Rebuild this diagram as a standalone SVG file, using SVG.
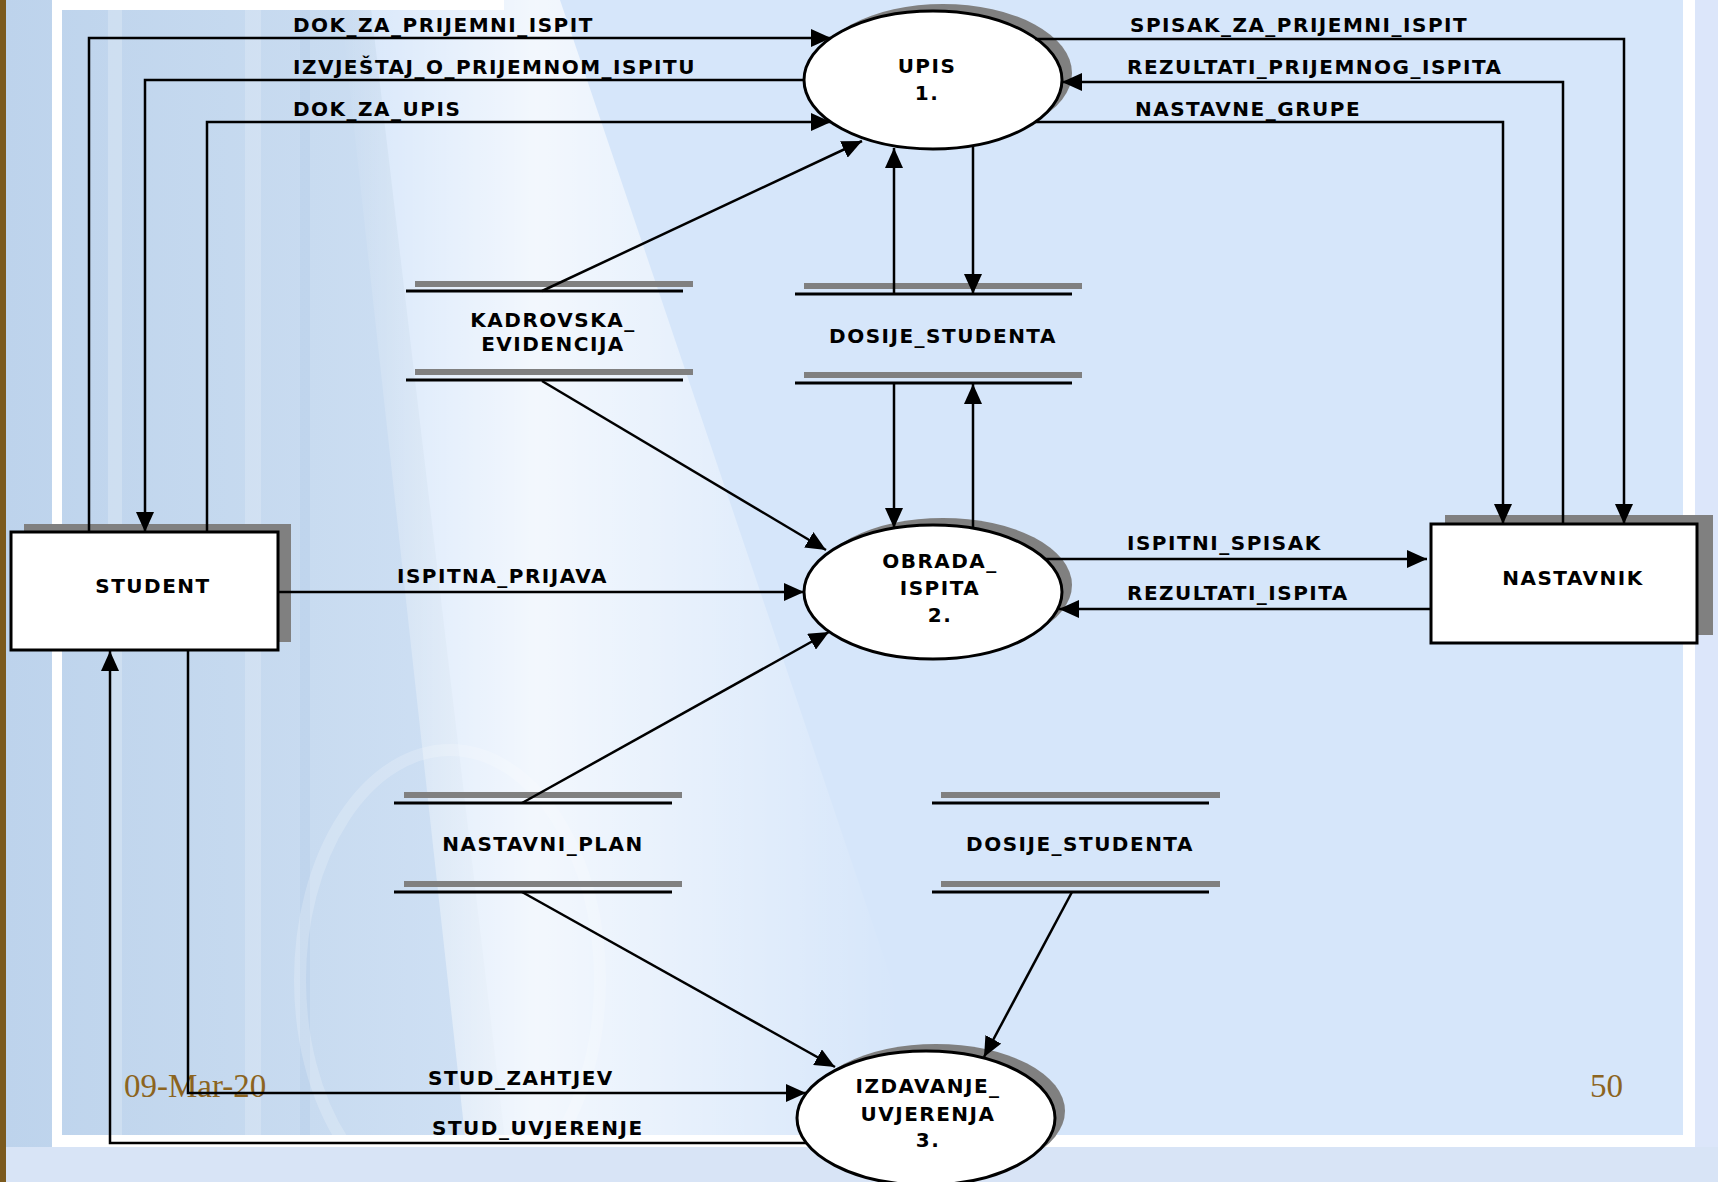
<svg xmlns="http://www.w3.org/2000/svg" width="1718" height="1182" viewBox="0 0 1718 1182">
<defs>
<style>
.lbl{font-family:"DejaVu Sans","Liberation Sans",Arial,sans-serif;font-weight:bold;font-size:20px;letter-spacing:1.5px;fill:#000}
.mid{text-anchor:middle}
.foot{font-family:"Liberation Serif","Times New Roman",serif;font-size:33px;fill:#8C6420}
.box{fill:#fff;stroke:#000;stroke-width:3}
.shadow{fill:#808080}
.proc{fill:#fff;stroke:#000;stroke-width:3}
.sg{stroke:#808080;stroke-width:6}
.sb{stroke:#000;stroke-width:3}
.cn{fill:none;stroke:#000;stroke-width:2.5;marker-end:url(#ah)}
</style>
<marker id="ah" viewBox="0 0 20 18" refX="20" refY="9" markerWidth="20" markerHeight="18" markerUnits="userSpaceOnUse" orient="auto">
<path d="M0,0 L20,9 L0,18 z" fill="#000"/>
</marker>
<linearGradient id="glow" gradientUnits="userSpaceOnUse" x1="340" y1="0" x2="900" y2="0">
<stop offset="0" stop-color="#fff" stop-opacity="0"/>
<stop offset="0.35" stop-color="#fff" stop-opacity="0.7"/>
<stop offset="1" stop-color="#fff" stop-opacity="0"/>
</linearGradient>
<linearGradient id="pillar" x1="0" x2="1" y1="0" y2="0">
<stop offset="0" stop-color="#BDD3EC"/>
<stop offset="0.6" stop-color="#C8DBF0"/>
<stop offset="1" stop-color="#D0E1F5"/>
</linearGradient>
</defs>

<g id="background">
<rect x="0" y="0" width="1718" height="1182" fill="#D6E6FA"/>
<polygon points="6,0 370,0 510,1182 6,1182" fill="url(#pillar)"/>
<polygon points="340,0 560,0 960,1182 470,1182" fill="url(#glow)"/>
<rect x="108" y="10" width="14" height="1125" fill="#fff" opacity="0.22"/>
<rect x="245" y="10" width="16" height="1125" fill="#fff" opacity="0.2"/>
<rect x="300" y="10" width="10" height="1125" fill="#A9C3E2" opacity="0.25"/>
<ellipse cx="450" cy="980" rx="150" ry="230" fill="none" stroke="#fff" stroke-width="12" opacity="0.2"/>
<rect x="1695" y="0" width="23" height="1182" fill="#DCE6FA"/>
<rect x="0" y="1147" width="1718" height="35" fill="#D8E4F6"/>
<rect x="52" y="0" width="10" height="1147" fill="#fff"/>
<rect x="52" y="0" width="452" height="10" fill="#fff"/>
<rect x="52" y="1135" width="1643" height="12" fill="#fff"/>
<rect x="1683" y="0" width="12" height="1147" fill="#fff"/>
<rect x="0" y="0" width="6" height="1182" fill="#7B5A1E"/>
<text class="foot" x="124" y="1097">09-Mar-20</text>
<text class="foot" x="1590" y="1097">50</text>
</g>

<g id="store-kadrovska">
<line class="sg" x1="415" y1="284" x2="693" y2="284"/>
<line class="sb" x1="406" y1="291" x2="683" y2="291"/>
<line class="sg" x1="415" y1="372" x2="693" y2="372"/>
<line class="sb" x1="406" y1="380" x2="683" y2="380"/>
<text class="lbl mid" x="553" y="327">KADROVSKA_</text>
<text class="lbl mid" x="553" y="351">EVIDENCIJA</text>
</g>

<g id="store-dosije-1">
<line class="sg" x1="804" y1="286" x2="1082" y2="286"/>
<line class="sb" x1="795" y1="294" x2="1072" y2="294"/>
<line class="sg" x1="804" y1="375" x2="1082" y2="375"/>
<line class="sb" x1="795" y1="383" x2="1072" y2="383"/>
<text class="lbl mid" x="943" y="343">DOSIJE_STUDENTA</text>
</g>

<g id="store-nastavni-plan">
<line class="sg" x1="404" y1="795" x2="682" y2="795"/>
<line class="sb" x1="394" y1="803" x2="672" y2="803"/>
<line class="sg" x1="404" y1="884" x2="682" y2="884"/>
<line class="sb" x1="394" y1="892" x2="672" y2="892"/>
<text class="lbl mid" x="543" y="851">NASTAVNI_PLAN</text>
</g>

<g id="store-dosije-2">
<line class="sg" x1="941" y1="795" x2="1220" y2="795"/>
<line class="sb" x1="932" y1="803" x2="1209" y2="803"/>
<line class="sg" x1="941" y1="884" x2="1220" y2="884"/>
<line class="sb" x1="932" y1="892" x2="1209" y2="892"/>
<text class="lbl mid" x="1080" y="851">DOSIJE_STUDENTA</text>
</g>

<g id="proc-upis">
<ellipse class="shadow" cx="943" cy="73" rx="129" ry="69"/>
<ellipse class="proc" cx="933" cy="80" rx="129" ry="69"/>
<text class="lbl mid" x="927" y="73">UPIS</text>
<text class="lbl mid" x="927" y="100">1.</text>
</g>

<g id="proc-obrada">
<ellipse class="shadow" cx="943" cy="585" rx="129" ry="67"/>
<ellipse class="proc" cx="933" cy="592" rx="129" ry="67"/>
<text class="lbl mid" x="940" y="568">OBRADA_</text>
<text class="lbl mid" x="940" y="595">ISPITA</text>
<text class="lbl mid" x="940" y="622">2.</text>
</g>

<g id="proc-izdavanje">
<ellipse class="shadow" cx="936" cy="1111" rx="129" ry="67"/>
<ellipse class="proc" cx="926" cy="1118" rx="129" ry="67"/>
<text class="lbl mid" x="928" y="1093">IZDAVANJE_</text>
<text class="lbl mid" x="928" y="1121">UVJERENJA</text>
<text class="lbl mid" x="928" y="1147">3.</text>
</g>

<g id="ent-student">
<rect class="shadow" x="24" y="524" width="267" height="118"/>
<rect class="box" x="11" y="532" width="267" height="118"/>
<text class="lbl mid" x="153" y="593">STUDENT</text>
</g>

<g id="ent-nastavnik">
<rect class="shadow" x="1445" y="515" width="268" height="120"/>
<rect class="box" x="1431" y="524" width="266" height="119"/>
<text class="lbl mid" x="1573" y="585">NASTAVNIK</text>
</g>

<g id="connectors">
<path class="cn" d="M89,532 V38 H831"/>
<path class="cn" d="M804,80 H145 V532"/>
<path class="cn" d="M207,532 V122 H831"/>
<path class="cn" d="M1035,39 H1624 V524"/>
<path class="cn" d="M1563,524 V82 H1062"/>
<path class="cn" d="M1035,122 H1503 V524"/>
<path class="cn" d="M542,291 L862,141"/>
<path class="cn" d="M894,294 V148"/>
<path class="cn" d="M973,147 V294"/>
<path class="cn" d="M894,383 V528"/>
<path class="cn" d="M973,528 V384"/>
<path class="cn" d="M542,381 L826,550"/>
<path class="cn" d="M278,592 H804"/>
<path class="cn" d="M1045,559 H1427"/>
<path class="cn" d="M1430,609 H1059"/>
<path class="cn" d="M522,803 L829,632"/>
<path class="cn" d="M522,892 L835,1067"/>
<path class="cn" d="M1072,892 L984,1057"/>
<path class="cn" d="M188,650 V1093 H806"/>
<path class="cn" d="M806,1143 H110 V651"/>
</g>

<g id="flow-labels">
<text class="lbl" x="293" y="32">DOK_ZA_PRIJEMNI_ISPIT</text>
<text class="lbl" x="293" y="74">IZVJEŠTAJ_O_PRIJEMNOM_ISPITU</text>
<text class="lbl" x="293" y="116">DOK_ZA_UPIS</text>
<text class="lbl" x="1130" y="32">SPISAK_ZA_PRIJEMNI_ISPIT</text>
<text class="lbl" x="1127" y="74">REZULTATI_PRIJEMNOG_ISPITA</text>
<text class="lbl" x="1135" y="116">NASTAVNE_GRUPE</text>
<text class="lbl" x="397" y="583">ISPITNA_PRIJAVA</text>
<text class="lbl" x="1127" y="550">ISPITNI_SPISAK</text>
<text class="lbl" x="1127" y="600">REZULTATI_ISPITA</text>
<text class="lbl" x="428" y="1085">STUD_ZAHTJEV</text>
<text class="lbl" x="432" y="1135">STUD_UVJERENJE</text>
</g>
</svg>
